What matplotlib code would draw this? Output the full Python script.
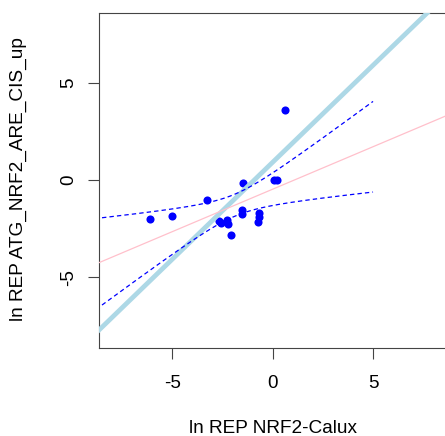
import numpy as np
import matplotlib
matplotlib.use('Agg')
import matplotlib.pyplot as plt

# ln REP values
rep_calux = [-6.13, -5.03, -3.29, -1.50, 0.63, 0.08, 0.22, -2.68, -2.59,
             -2.29, -2.21, -2.08, -1.55, -1.55, -0.67, -0.68, -0.72]
rep_atg = [-2.01, -1.84, -1.03, -0.14, 3.59, 0.00, 0.00, -2.10, -2.23,
           -2.06, -2.28, -2.84, -1.55, -1.75, -1.68, -1.92, -2.15]

# reference line (slope 1)
ref_slope = 1.0
ref_intercept = 0.92

band_from = -8.5
band_to = 5.0
t_90 = 1.7531  # t quantile, 0.95, 15 df

x_ticks = [-5, 0, 5]
y_ticks = [-5, 0, 5]

plt.rcParams['font.family'] = ['Liberation Sans', 'DejaVu Sans']

x = np.array(rep_calux)
y = np.array(rep_atg)
n = len(x)
slope, intercept = np.polyfit(x, y, 1)
resid = y - (intercept + slope * x)
s = np.sqrt(np.sum(resid ** 2) / (n - 2))
sxx = np.sum((x - x.mean()) ** 2)

xs = np.linspace(band_from, band_to, 200)
fit = intercept + slope * xs
half = t_90 * s * np.sqrt(1.0 / n + (xs - x.mean()) ** 2 / sxx)

fig = plt.figure(figsize=(4.45, 4.36), dpi=100)
ax = fig.add_axes([99 / 445, 1 - 348.3 / 436, 347.3 / 445, 335.6 / 436])

ax.scatter(x, y, s=34, color='blue', zorder=3, linewidths=0)
ax.axline((0, ref_intercept), slope=ref_slope, color='lightblue', lw=3.4, zorder=4)
ax.axline((0, intercept), slope=slope, color='pink', lw=0.9, zorder=5)
ax.plot(xs, fit + half, color='blue', lw=0.9, dashes=(3.5, 2.5), zorder=6)
ax.plot(xs, fit - half, color='blue', lw=0.9, dashes=(3.5, 2.5), zorder=6)

ax.set_xlim(-8.65, 8.65)
ax.set_ylim(-8.67, 8.63)
ax.set_xticks(x_ticks)
ax.set_yticks(y_ticks)
ax.set_xticklabels([str(v) for v in x_ticks])
ax.set_yticklabels([str(v) for v in y_ticks], rotation=90, va='center')
ax.tick_params(length=8, width=0.8, color='#444444', labelsize=13.6, pad=11)
ax.tick_params(axis='y', pad=8)
for sp in ax.spines.values():
    sp.set_color('#444444')
    sp.set_linewidth(0.8)

fig.text(272.6 / 445, 1 - 428 / 436, 'ln REP NRF2-Calux', ha='center', va='center', fontsize=13.7)
fig.text(18.5 / 445, 1 - 179 / 436, 'ln REP ATG_NRF2_ARE_CIS_up', ha='center', va='center',
         rotation=90, fontsize=13.7)

fig.savefig('out.png', dpi=100)
